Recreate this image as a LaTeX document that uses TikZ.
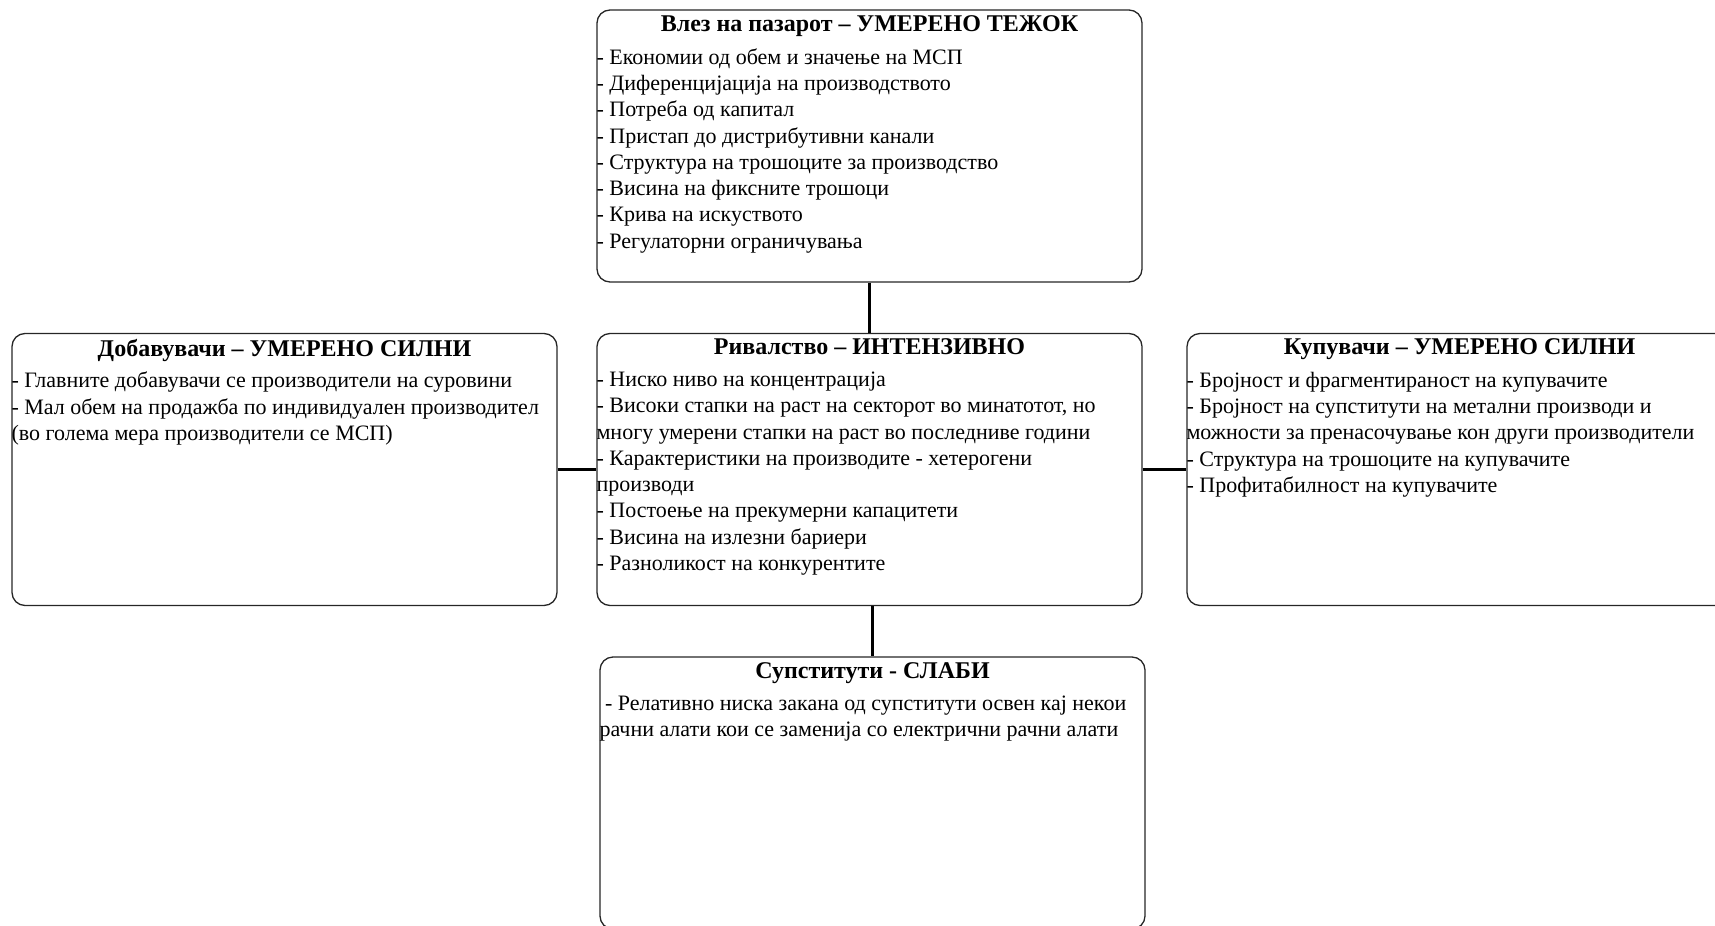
\documentclass[tikz,border=0pt]{standalone}
\usepackage{fontspec}
\setmainfont{Liberation Serif}
\usetikzlibrary{positioning}

\begin{document}
\begin{tikzpicture}[x=1bp,y=-1bp,
        force/.style={draw=black!85,line width=1.3bp,rounded corners=13bp,
            minimum width=545bp,minimum height=272bp,inner sep=0},
        head/.style={inner sep=0,font=\fontsize{24bp}{28bp}\selectfont\bfseries},
        items/.style={inner sep=0,align=left,font=\fontsize{22bp}{26.25bp}\selectfont},
        link/.style={line width=3bp}]
    \useasboundingbox (0,0) rectangle (1715,925);
    \clip (0,0) rectangle (1715,925);

    \node[force] (entry) at (869.5,146) {};
    \node[head, below=6bp of entry.north] (entryhead) {Влез на пазарот – УМЕРЕНО ТЕЖОК};
    \node[items, below right=39bp and 0bp of entry.north west] (entrylist)
        {- Економии од обем и значење на МСП\\
         - Диференцијација на производството\\
         - Потреба од капитал\\
         - Пристап до дистрибутивни канали\\
         - Структура на трошоците за производство\\
         - Висина на фиксните трошоци\\
         - Крива на искуството\\
         - Регулаторни ограничувања};

    \node[force] (suppliers) at (284.5,469.5) {};
    \node[head, below=6bp of suppliers.north] (suppliershead) {Добавувачи – УМЕРЕНО СИЛНИ};
    \node[items, below right=39bp and 0bp of suppliers.north west] (supplierslist)
        {- Главните добавувачи се производители на суровини\\
         - Мал обем на продажба по индивидуален производител\\
         (во голема мера производители се МСП)};

    \node[force] (rivalry) at (869.5,469.5) {};
    \node[head, below=6bp of rivalry.north] (rivalryhead) {Ривалство – ИНТЕНЗИВНО};
    \node[items, below right=39bp and 0bp of rivalry.north west] (rivalrylist)
        {- Ниско ниво на концентрација\\
         - Високи стапки на раст на секторот во минатотот, но\\
         многу умерени стапки на раст во последниве години\\
         - Карактеристики на производите - хетерогени\\
         производи\\
         - Постоење на прекумерни капацитети\\
         - Висина на излезни бариери\\
         - Разноликост на конкурентите};

    \node[force] (buyers) at (1459.5,469.5) {};
    \node[head, below=6bp of buyers.north] (buyershead) {Купувачи – УМЕРЕНО СИЛНИ};
    \node[items, below right=39bp and 0bp of buyers.north west] (buyerslist)
        {- Бројност и фрагментираност на купувачите\\
         - Бројност на супститути на метални производи и\\
         можности за пренасочување кон други производители\\
         - Структура на трошоците на купувачите\\
         - Профитабилност на купувачите};

    \node[force] (subst) at (872.5,793) {};
    \node[head, below=6bp of subst.north] (substhead) {Супститути - СЛАБИ};
    \node[items, below right=39bp and 0bp of subst.north west] (substlist)
        {\ - Релативно ниска закана од супститути освен кај некои\\
         рачни алати кои се заменија со електрични рачни алати};

    \draw[link] (entry) -- (rivalry);
    \draw[link] (suppliers) -- (rivalry);
    \draw[link] (rivalry) -- (buyers);
    \draw[link] (subst.north |- rivalry.south) -- (subst.north);
\end{tikzpicture}
\end{document}
